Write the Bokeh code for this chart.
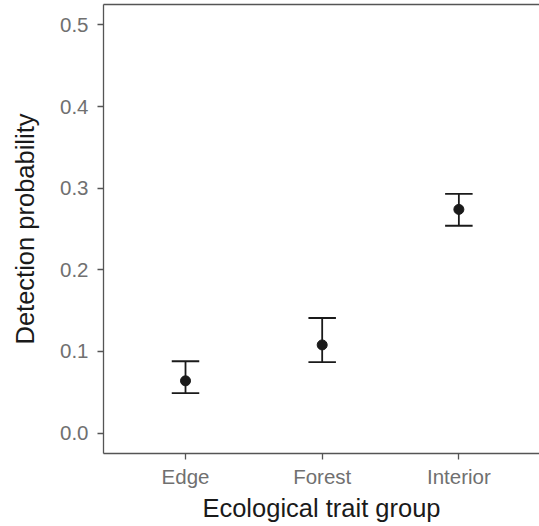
from bokeh.plotting import figure
from bokeh.models import ColumnDataSource, Whisker, TeeHead, Range1d, FixedTicker, LinearAxis
from bokeh.embed import file_html
from bokeh.resources import INLINE

groups = ["Edge", "Forest", "Interior"]
estimate = [0.064, 0.108, 0.274]
lower = [0.049, 0.087, 0.254]
upper = [0.088, 0.141, 0.293]
y_ticks = [0.0, 0.1, 0.2, 0.3, 0.4, 0.5]

xpos = [i + 1 for i in range(len(groups))]
src = ColumnDataSource(dict(x=xpos, est=estimate, lo=lower, up=upper, g=groups))

FONT = "Liberation Sans"
AX = "#555555"
INK = "#1a1a1a"

p = figure(width=539, height=526, output_backend="svg", toolbar_location=None,
           x_range=Range1d(0.4, 3.59), y_range=Range1d(-0.025, 0.525),
           min_border_left=103, min_border_right=0, min_border_top=4, min_border_bottom=73)
p.background_fill_color = "white"
p.border_fill_color = "white"
p.outline_line_color = None
p.xgrid.visible = False
p.ygrid.visible = False

xa = p.below[0]
ya = p.left[0]

p.add_layout(Whisker(base="x", lower="lo", upper="up", source=src,
                     line_color=INK, line_width=1.8,
                     upper_head=TeeHead(size=27.5, line_color=INK, line_width=1.8),
                     lower_head=TeeHead(size=27.5, line_color=INK, line_width=1.8)))
p.scatter("x", "est", source=src, size=10, color=INK)

# top border line
top = LinearAxis(ticker=FixedTicker(ticks=[]), major_label_text_font_size="0px",
                 major_tick_out=0, major_tick_in=0, minor_tick_out=0, minor_tick_in=0,
                 major_label_standoff=0, axis_label_standoff=0,
                 axis_line_color=AX, axis_line_width=1.3)
p.add_layout(top, "above")

xa.ticker = FixedTicker(ticks=xpos)
xa.major_label_overrides = {x: g for x, g in zip(xpos, groups)}
ya.ticker = FixedTicker(ticks=y_ticks)
ya.major_label_overrides = {t: f"{t:.1f}" for t in y_ticks}

for ax in (xa, ya):
    ax.axis_line_color = AX
    ax.axis_line_width = 1.3
    ax.major_tick_line_color = AX
    ax.major_tick_line_width = 1.3
    ax.major_tick_out = 6
    ax.major_tick_in = 0
    ax.minor_tick_line_color = None
    ax.major_label_text_font = FONT
    ax.major_label_text_font_size = "20.5px"
    ax.major_label_text_color = "#707070"
    ax.axis_label_text_font = FONT
    ax.axis_label_text_font_size = "25.5px"
    ax.axis_label_text_font_style = "normal"
    ax.axis_label_text_color = INK

xa.axis_label = "Ecological trait group"
ya.axis_label = "Detection probability"
xa.major_label_standoff = 5
ya.major_label_standoff = 9
xa.axis_label_standoff = 3
ya.axis_label_standoff = 18

open("out.html", "w").write(file_html(p, INLINE))
